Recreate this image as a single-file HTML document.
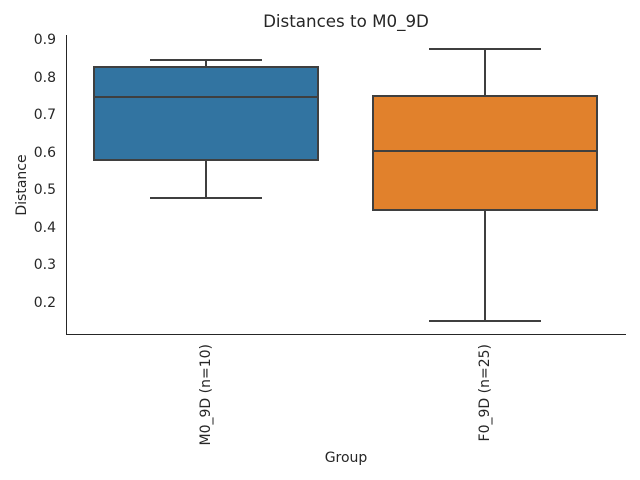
<!DOCTYPE html><html><head><style>body{margin:0;background:#fff}svg{display:block}text{font-family:"DejaVu Sans","Liberation Sans",sans-serif;fill:#262626}</style></head><body>
<svg width="640" height="480" xmlns="http://www.w3.org/2000/svg">
<text x="346" y="27" font-size="16.7" text-anchor="middle">Distances to M0_9D</text>
<g stroke="#262626" stroke-width="1"><line x1="66.5" y1="35" x2="66.5" y2="334.5"/><line x1="66" y1="334.5" x2="626" y2="334.5"/></g>
<g font-size="14" text-anchor="end">
<text x="56" y="44">0.9</text><text x="56" y="82">0.8</text><text x="56" y="119">0.7</text><text x="56" y="157">0.6</text><text x="56" y="194">0.5</text><text x="56" y="232">0.4</text><text x="56" y="269">0.3</text><text x="56" y="307">0.2</text></g>
<text transform="translate(26,185) rotate(-90)" font-size="14" text-anchor="middle">Distance</text>
<text x="346" y="462" font-size="14" text-anchor="middle">Group</text>
<text transform="translate(210,344) rotate(-90)" font-size="14" text-anchor="end">M0_9D (n=10)</text>
<text transform="translate(489,344) rotate(-90)" font-size="14" text-anchor="end">F0_9D (n=25)</text>
<g stroke="#3f3f3f" stroke-width="2" fill="none">
<rect x="94" y="67" width="224" height="93" fill="#3274a1"/>
<line x1="94" y1="97" x2="318" y2="97"/>
<line x1="206" y1="67" x2="206" y2="60"/><line x1="150" y1="60" x2="262" y2="60"/>
<line x1="206" y1="160" x2="206" y2="198"/><line x1="150" y1="198" x2="262" y2="198"/>
<rect x="373" y="96" width="224" height="114" fill="#e1812c"/>
<line x1="373" y1="151" x2="597" y2="151"/>
<line x1="485" y1="96" x2="485" y2="49"/><line x1="429" y1="49" x2="541" y2="49"/>
<line x1="485" y1="210" x2="485" y2="321"/><line x1="429" y1="321" x2="541" y2="321"/>
</g></svg></body></html>
